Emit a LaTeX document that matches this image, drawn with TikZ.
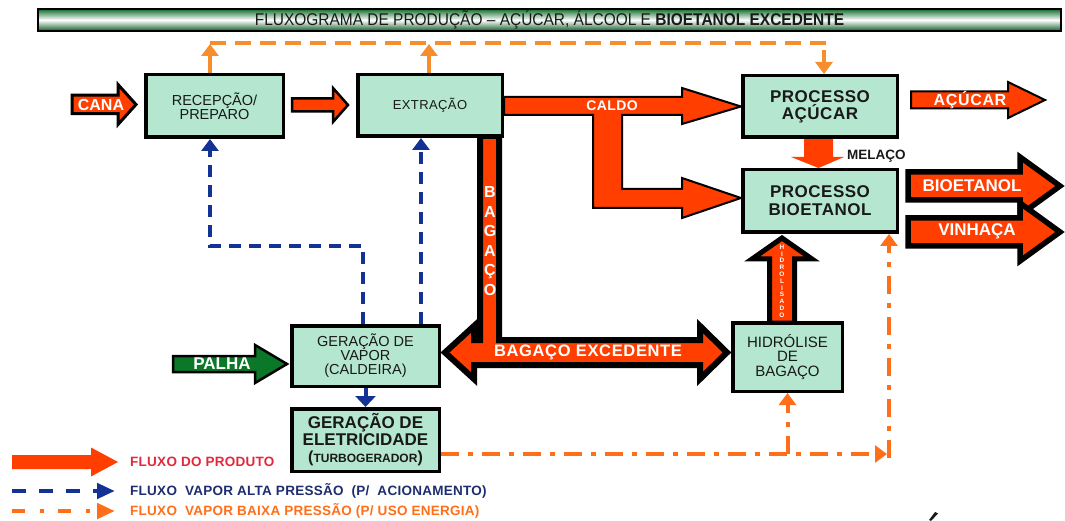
\documentclass[tikz,border=0pt]{standalone}
\usepackage{fontspec}
\setmainfont{Liberation Sans}
\newfontfamily\narrowfont[FakeStretch=0.91]{Liberation Sans}
\usetikzlibrary{arrows.meta,calc}
\pgfdeclarelayer{bg}
\pgfsetlayers{bg,main}
\definecolor{boxfill}{RGB}{180,230,208}
\definecolor{arrred}{RGB}{255,62,0}
\definecolor{palgreen}{RGB}{10,120,40}
\definecolor{steamblue}{RGB}{20,50,150}
\definecolor{orA}{RGB}{247,142,45}
\definecolor{orB}{RGB}{255,110,25}
\definecolor{txtdark}{RGB}{25,25,25}
\definecolor{legred}{RGB}{225,40,60}
\definecolor{legblue}{RGB}{30,45,110}
\definecolor{barGreen}{RGB}{20,110,45}
\newcommand\myfs[2]{\fontsize{#1}{#2}\selectfont}
\newcommand\spaced[1]{\addfontfeature{LetterSpace=#1}}
% horizontal block arrow: [style]{tailx}{tipx}{cy}{shaft half}{head half}{head length}
\newcommand\hblock[7][]{%
  \path[#1] (#2,{#4-#5}) -- ({#3-#7},{#4-#5}) -- ({#3-#7},{#4-#6}) -- (#3,#4)
    -- ({#3-#7},{#4+#6}) -- ({#3-#7},{#4+#5}) -- (#2,{#4+#5}) -- cycle;}
\begin{document}
\begin{tikzpicture}[x=1pt,y=-1pt,
  proc/.style={draw=black,line width=3.5pt,fill=boxfill,inner sep=0pt,align=center,text=txtdark},
  wtxt/.style={text=white,inner sep=0pt},
  redarr/.style={fill=arrred,draw=black,line join=miter},
  bluedash/.style={draw=steamblue,line width=4pt,dash pattern=on 12pt off 8pt},
  ordash/.style={draw=orA,line width=4.5pt,dash pattern=on 16pt off 9pt},
  orsolid/.style={draw=orA,line width=4.5pt},
  ordd/.style={draw=orB,line width=4pt,dash pattern=on 18pt off 9pt on 5pt off 9pt},
  bhead/.style={-{Triangle[length=12pt,width=17pt]}},
  legtxt/.style={anchor=west,inner sep=0pt,font=\myfs{13.5}{14}\bfseries\spaced{2}},
]
\useasboundingbox (0,0) rectangle (1065,521);

% title bar
\node[draw=black,line width=2pt,minimum width=1023pt,minimum height=22pt,inner sep=0pt,
      top color=barGreen,bottom color=barGreen!85!black,middle color=white,text=txtdark] (title) at (549.5,20)
  {\narrowfont\myfs{17}{17}FLUXOGRAMA DE PRODUÇÃO – AÇÚCAR, ÁLCOOL E \textbf{BIOETANOL EXCEDENTE}};

% process boxes
\node[proc,minimum width=137.5pt,minimum height=62.5pt,font=\myfs{14.5}{14.5}] (rec) at (214.5,106) {RECEPÇÃO/\\PREPARO};
\node[proc,minimum width=144.5pt,minimum height=61.5pt,font=\myfs{13}{13}\spaced{3}] (ext) at (430,105.5) {EXTRAÇÃO};
\node[proc,minimum width=154.5pt,minimum height=61.5pt,font=\myfs{17}{17}\bfseries\spaced{3}] (acu) at (820,106.5) {PROCESSO\\AÇÚCAR};
\node[proc,minimum width=154.5pt,minimum height=62.5pt,font=\myfs{17}{18}\bfseries\spaced{3}] (bio) at (820,201) {PROCESSO\\BIOETANOL};
\node[proc,minimum width=147.5pt,minimum height=60.5pt,font=\myfs{14.5}{14}] (vap) at (365.5,356) {GERAÇÃO DE\\VAPOR\\(CALDEIRA)};
\node[proc,minimum width=147.5pt,minimum height=62.5pt,font=\myfs{17}{17}\bfseries] (ele) at (365.5,440)
  {GERAÇÃO DE\\ELETRICIDADE\\{\myfs{16}{18}(}{\myfs{12}{18}TURBOGERADOR}{\myfs{16}{18})}};
\node[proc,minimum width=109.5pt,minimum height=68.5pt,font=\myfs{15}{14.5}] (hid) at (787.5,357) {HIDRÓLISE\\DE\\BAGAÇO};

% block arrows (behind boxes)
\begin{pgfonlayer}{bg}
  % CANA
  \hblock[redarr,line width=3pt]{72}{136}{104.5}{9.25}{20}{18}
  % recepcao -> extracao
  \hblock[redarr,line width=2.5pt]{292}{348}{105}{6.5}{17}{15}
  % CALDO with branch to bioetanol
  \path[redarr,line width=2pt] (ext.east |- 0,97) -- (682,97) -- (682,88) -- (acu.west) -- (682,124) -- (682,115)
     -- (622,115) -- (622,189) -- (682,189) -- (682,178) -- (bio.west |- 0,198) -- (682,218) -- (682,208)
     -- (593,208) -- (593,115) -- (ext.east |- 0,115) -- cycle;
  % MELACO
  \path[fill=arrred] (804,{139}) -- (804,157) -- (791,157) -- (bio.north -| 818.5,0) -- (844,157) -- (833,157) -- (833,139) -- cycle;
  % ACUCAR out
  \hblock[redarr,line width=2pt]{911}{1045}{100}{8.5}{18}{37}
  % BIOETANOL / VINHACA out
  \hblock[redarr,line width=5.5pt]{908}{1060}{186}{14}{29}{40}
  \hblock[redarr,line width=5.5pt]{908}{1060}{232}{14}{29}{40}
  % BAGACO + BAGACO EXCEDENTE
  \path[redarr,line width=6pt] (445,352.5) -- (474,326) -- (474,340) -- (480,340) -- (480,136) -- (499,136)
     -- (499,340) -- (700,340) -- (700,326) -- (727,352.5) -- (700,379) -- (700,365) -- (474,365)
     -- (474,379) -- cycle;
  % HIDROLISADO
  \path[redarr,line width=5pt] (769.5,323) -- (769.5,259) -- (752,259) -- (782,238) -- (812,259)
     -- (794.5,259) -- (794.5,323) -- cycle;
  % PALHA
  \hblock[fill=palgreen,draw=black,line width=2.5pt]{173}{287}{364}{8}{19}{32}
  % legend product arrow
  \hblock[fill=arrred]{12}{118}{462}{7}{14.5}{27}
\end{pgfonlayer}

% arrow labels
\node[wtxt,font=\myfs{16}{16}\bfseries] (lcana) at (101,104.5) {CANA};
\node[wtxt,font=\myfs{14}{14}\bfseries\spaced{3}] (lcaldo) at (612,106) {CALDO};
\node[wtxt,font=\myfs{16}{16}\bfseries\spaced{4}] (lacu) at (970,100) {AÇÚCAR};
\node[wtxt,font=\myfs{17}{17}\bfseries] (lbio) at (972,186) {BIOETANOL};
\node[wtxt,font=\myfs{17}{17}\bfseries] (lvin) at (977,231) {VINHAÇA};
\node[wtxt,font=\myfs{17}{17}\bfseries] (lpal) at (222,364) {PALHA};
\node[wtxt,font=\myfs{16.5}{16.5}\bfseries\spaced{4}] (lexc) at (588,352) {BAGAÇO EXCEDENTE};
\node[wtxt,align=center,font=\myfs{16}{19.6}\bfseries] (lbag) at (490,241) {B\\A\\G\\A\\Ç\\O};
\node[wtxt,align=center,font=\myfs{6.5}{6.8}\bfseries] (lhid) at (782,281) {H\\I\\D\\R\\O\\L\\I\\S\\A\\D\\O};
\node[anchor=west,inner sep=0pt,text=txtdark,font=\myfs{13.5}{13.5}\bfseries] (lmel) at (847,156) {MELAÇO};

% high pressure steam (blue dashed)
\draw[bluedash,-{Triangle[length=12pt,width=17pt]}] ([xshift=-2.5pt]vap.north) -- ([xshift=-2.5pt]vap.north |- 0,246) -| ([xshift=-4.5pt]rec.south);
\draw[bluedash,-{Triangle[length=12pt,width=17pt]}] ([xshift=-9pt]ext.south |- vap.north) -- ([xshift=-9pt]ext.south);
\draw[draw=steamblue,line width=4pt,-{Triangle[length=11pt,width=20pt]}] (vap.south) -- (ele.north);

% low pressure steam (orange, top)
\draw[ordash] ([xshift=-4.5pt]rec.north |- 0,43) -- ([xshift=4pt]acu.north |- 0,43) -- ([xshift=4pt]acu.north |- 0,52);
\draw[orsolid,bhead] ([xshift=-4.5pt]rec.north) -- ([xshift=-4.5pt]rec.north |- 0,44);
\draw[orsolid,bhead] ([xshift=-1pt]ext.north) -- ([xshift=-1pt]ext.north |- 0,44);
\draw[orsolid,bhead] ([xshift=4pt]acu.north |- 0,50) -- ([xshift=4pt]acu.north);

% low pressure steam (orange, bottom dash-dot)
\draw[ordd,bhead] ([yshift=-14pt]ele.east) -- (887,454);
\draw[ordd,bhead] ([yshift=-61pt]hid.south) -- (hid.south);
\draw[ordd,bhead] ([xshift=69pt]bio.south |- 0,458) -- ([xshift=69pt]bio.south);

% legend
\node[legtxt,text=legred] (leg1) at (130,462) {FLUXO DO PRODUTO};
\draw[draw=steamblue,line width=4.5pt,dash pattern=on 14pt off 13pt,-{Triangle[length=18pt,width=15pt]}] (12,491) -- (115,491);
\node[legtxt,text=legblue] (leg2) at (130,491) {FLUXO\ \ VAPOR ALTA PRESSÃO\ \ (P/\ \ ACIONAMENTO)};
\draw[draw=orB,line width=4.5pt,dash pattern=on 13pt off 15pt on 4pt off 14pt,-{Triangle[length=18pt,width=15pt]}] (12,511) -- (115,511);
\node[legtxt,text=orB] (leg3) at (130,511) {FLUXO\ \ VAPOR BAIXA PRESSÃO (P/ USO ENERGIA)};

% accent fragment at the bottom edge
\fill[txtdark] (929,520) -- (935,512) -- (938,513.5) -- (931,521) -- cycle;
\end{tikzpicture}
\end{document}
